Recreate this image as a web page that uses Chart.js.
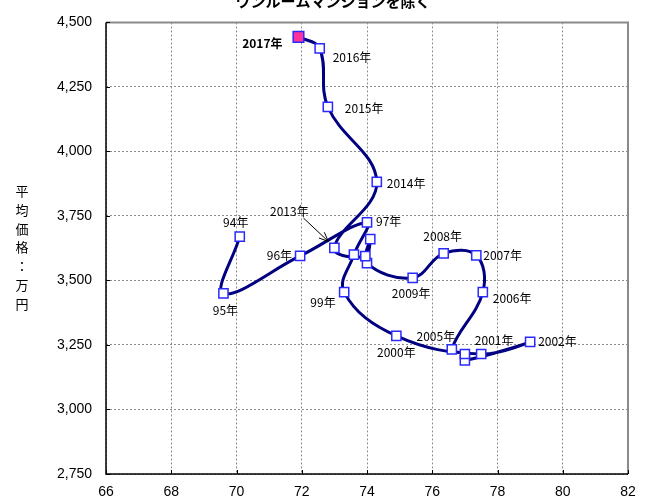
<!DOCTYPE html>
<html lang="ja">
<head>
<meta charset="utf-8">
<title>平均価格と専有面積の推移</title>
<script src="https://cdn.jsdelivr.net/npm/chart.js@4/dist/chart.umd.min.js"></script>
<style>
  html, body { margin: 0; padding: 0; background: #ffffff; }
  #wrap { width: 649px; height: 501px; }
</style>
</head>
<body>
<div id="wrap"><canvas id="chart" width="649" height="501"></canvas></div>
<script>
// Year labels, average floor area (x) and average price in 万円 (y)
const years = ['94年', '95年', '96年', '97年', '98年', '99年', '2000年', '2001年', '2002年', '2003年',
  '2004年', '2005年', '2006年', '2007年', '2008年', '2009年', '2010年', '2011年', '2012年', '2013年',
  '2014年', '2015年', '2016年', '2017年'];
const area = [70.1, 69.6, 71.95, 74.0, 73.6, 73.3, 74.9, 77.5, 79.0, 77.0,
  77.0, 76.6, 77.55, 77.35, 76.35, 75.4, 74.0, 74.1, 73.95, 73.0,
  74.3, 72.8, 72.55, 71.9];
const price = [3670, 3450, 3595, 3725, 3600, 3455, 3285, 3215, 3262, 3190,
  3215, 3233, 3455, 3597, 3605, 3510, 3567, 3660, 3594, 3626,
  3882, 4173, 4399, 4444];

// Axis ranges and tick steps
const xTicks = { min: 66, max: 82, step: 2 };
const yTicks = { min: 2750, max: 4500, step: 250 };

const chartTitle = 'ワンルームマンションを除く';
const yTitle = '平均価格：万円';

// Label placement per point: [dx, dy, align]; null = unlabeled
const labelOffsets = [
  [-4, -14, 'center'], [2, 17, 'center'], [-8, -1, 'right'], [9, -1, 'left'], null,
  [-8.5, 10, 'right'], [0, 16, 'center'], [13, -14, 'center'], [8, 0, 'left'], null,
  null, [-16, -13, 'center'], [10, 6, 'left'], [7, 0, 'left'], [-1, -17, 'center'],
  [-1.5, 16, 'center'], null, null, null, [-45, -37, 'center'],
  [10, 2, 'left'], [17, 2, 'left'], [13, 9, 'left'], [-16, 7, 'right']
];
const latest = years.length - 1;
const arrowIndex = 19; // 2013年 has a pointer arrow

const points = area.map((x, i) => ({ x: x, y: price[i] }));

const CJK = '"Noto Sans CJK JP", "Noto Sans", sans-serif';
const NUM = '"Liberation Sans", Arial, sans-serif';

// Plot frame with inward tick marks
const framePlugin = {
  id: 'frame',
  beforeDatasetsDraw(chart) {
    const { ctx, chartArea: a, scales } = chart;
    ctx.save();
    ctx.lineWidth = 2;
    ctx.strokeStyle = '#8a8a8a';
    ctx.beginPath();
    ctx.moveTo(a.left, a.top);
    ctx.lineTo(a.right, a.top);
    ctx.lineTo(a.right, a.bottom);
    ctx.stroke();
    ctx.strokeStyle = '#000000';
    ctx.lineWidth = 1.5;
    ctx.beginPath();
    ctx.moveTo(a.left, a.top);
    ctx.lineTo(a.left, a.bottom);
    ctx.lineTo(a.right, a.bottom);
    ctx.stroke();
    ctx.lineWidth = 1;
    ctx.beginPath();
    for (let v = yTicks.min; v <= yTicks.max; v += yTicks.step) {
      const py = Math.round(scales.y.getPixelForValue(v)) + 0.5;
      ctx.moveTo(a.left, py);
      ctx.lineTo(a.left + 4, py);
    }
    for (let v = xTicks.min; v <= xTicks.max; v += xTicks.step) {
      const px = Math.round(scales.x.getPixelForValue(v)) + 0.5;
      ctx.moveTo(px, a.bottom);
      ctx.lineTo(px, a.bottom - 4);
    }
    ctx.stroke();
    ctx.restore();
  }
};

// Year labels beside the points, plus the pointer arrow
const labelPlugin = {
  id: 'yearLabels',
  afterDatasetsDraw(chart) {
    const { ctx } = chart;
    const meta = chart.getDatasetMeta(0);
    ctx.save();
    ctx.fillStyle = '#000000';
    ctx.textBaseline = 'middle';
    labelOffsets.forEach((o, i) => {
      if (!o) return;
      const el = meta.data[i];
      ctx.font = (i === latest ? 'bold 12px ' : '12px ') + CJK;
      ctx.textAlign = o[2];
      ctx.fillText(years[i], el.x + o[0], el.y + o[1]);
    });
    // arrow from the 2013 label down to the curve
    const p = meta.data[arrowIndex];
    const sx = p.x - 31, sy = p.y - 30;
    const ex = p.x - 6, ey = p.y - 6.5;
    const ang = Math.atan2(ey - sy, ex - sx);
    const head = 10;
    ctx.strokeStyle = '#000000';
    ctx.lineWidth = 1;
    ctx.beginPath();
    ctx.moveTo(sx, sy);
    ctx.lineTo(ex, ey);
    ctx.moveTo(ex, ey);
    ctx.lineTo(ex - head * Math.cos(ang - 0.4), ey - head * Math.sin(ang - 0.4));
    ctx.moveTo(ex, ey);
    ctx.lineTo(ex - head * Math.cos(ang + 0.4), ey - head * Math.sin(ang + 0.4));
    ctx.stroke();
    ctx.restore();
  }
};

// Chart heading and stacked vertical axis caption
const textPlugin = {
  id: 'texts',
  afterDraw(chart) {
    const { ctx } = chart;
    ctx.save();
    ctx.fillStyle = '#000000';
    ctx.font = 'bold 15px ' + CJK;
    ctx.textAlign = 'center';
    ctx.textBaseline = 'alphabetic';
    ctx.fillText(chartTitle, 333, 6.5);
    ctx.font = '13px ' + CJK;
    ctx.textBaseline = 'middle';
    const chars = Array.from(yTitle);
    chars.forEach((c, i) => {
      ctx.fillText(c, 22, 191 + i * 18.8);
    });
    ctx.restore();
  }
};

new Chart(document.getElementById('chart'), {
  type: 'scatter',
  data: {
    datasets: [{
      data: points,
      showLine: true,
      tension: 0.4,
      borderColor: '#000080',
      borderWidth: 3,
      pointStyle: 'rect',
      pointRadius: (c) => c.dataIndex === latest ? 7.5 : 6.5,
      pointHoverRadius: 6.5,
      pointBorderWidth: 1.5,
      pointBorderColor: '#2a2aff',
      pointBackgroundColor: (c) => c.dataIndex === latest ? '#ff3399' : '#ffffff'
    }]
  },
  options: {
    responsive: false,
    animation: false,
    devicePixelRatio: 1,
    layout: { padding: { top: 18, right: 21, left: 0, bottom: 0 } },
    plugins: { legend: { display: false }, tooltip: { enabled: false }, title: { display: false } },
    scales: {
      x: {
        type: 'linear',
        min: xTicks.min,
        max: xTicks.max,
        afterFit(s) { s.height = 27; },
        border: { display: false, dash: [2, 2] },
        grid: { color: '#8c8c8c', lineWidth: 1, drawTicks: false },
        ticks: {
          stepSize: xTicks.step,
          padding: 10,
          color: '#000000',
          font: { family: NUM, size: 14 }
        }
      },
      y: {
        type: 'linear',
        min: yTicks.min,
        max: yTicks.max,
        afterFit(s) { s.width = 106; },
        border: { display: false, dash: [2, 2] },
        grid: { color: '#8c8c8c', lineWidth: 1, drawTicks: false },
        ticks: {
          stepSize: yTicks.step,
          padding: 14,
          color: '#000000',
          font: { family: NUM, size: 14 },
          callback: (v) => v.toLocaleString('en-US')
        }
      }
    }
  },
  plugins: [framePlugin, labelPlugin, textPlugin]
});
</script>
</body>
</html>
